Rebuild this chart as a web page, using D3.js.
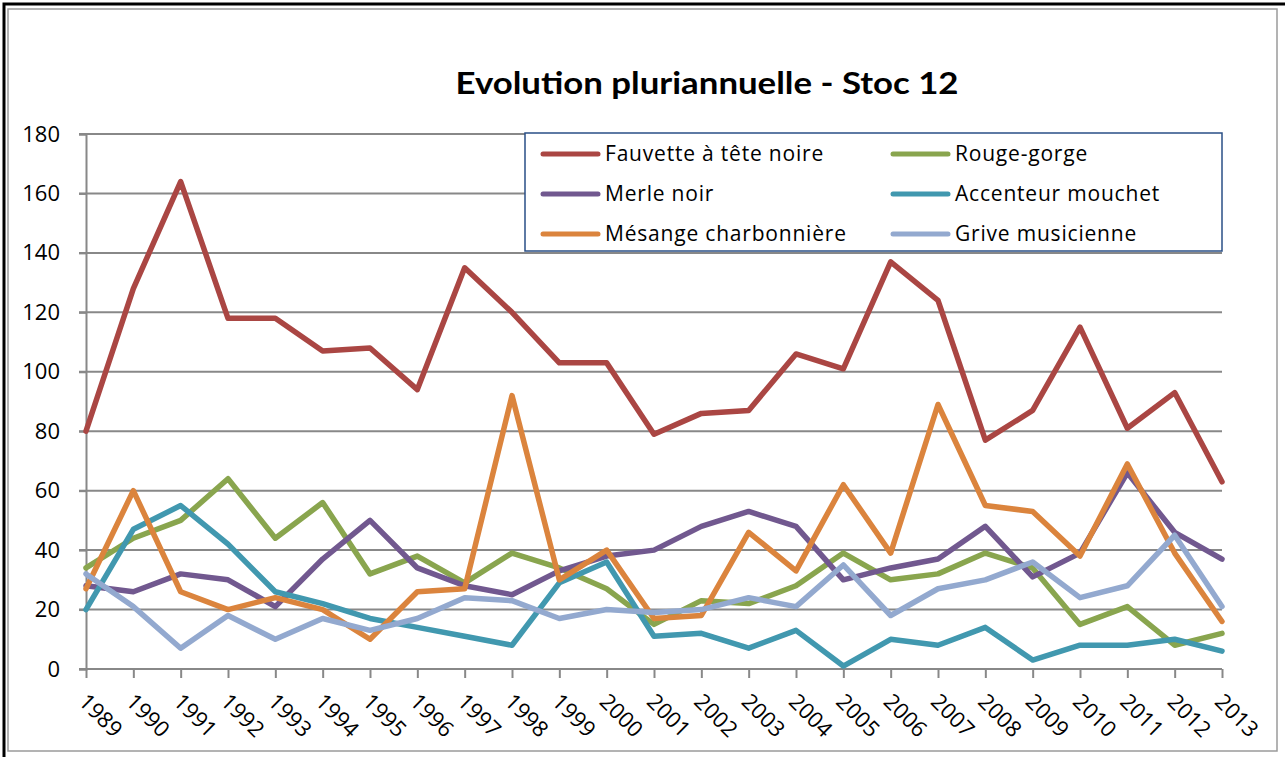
<!DOCTYPE html>
<html>
<head>
<meta charset="utf-8">
<script src="https://cdn.jsdelivr.net/npm/d3@7"></script>
<style>
  body { margin: 0; background: #fff; }
  svg text { font-family: "Open Sans", Lato, sans-serif; fill: #000; }
</style>
</head>
<body>
<div id="chart"></div>
<script>
const years = d3.range(1989, 2014);
const yTicks = [0, 20, 40, 60, 80, 100, 120, 140, 160, 180];

const seriesNames = ["Fauvette à tête noire", "Rouge-gorge", "Merle noir", "Accenteur mouchet", "Mésange charbonnière", "Grive musicienne"];
const seriesColors = ["#AA4643", "#89A54E", "#71588F", "#4198AF", "#DB843D", "#93A9CF"];

const fauvette = [80, 128, 164, 118, 118, 107, 108, 94, 135, 120, 103, 103, 79, 86, 87, 106, 101, 137, 124, 77, 87, 115, 81, 93, 63];
const rougeGorge = [34, 44, 50, 64, 44, 56, 32, 38, 29, 39, 34, 27, 15, 23, 22, 28, 39, 30, 32, 39, 34, 15, 21, 8, 12];
const merle = [28, 26, 32, 30, 21, 37, 50, 34, 28, 25, 33, 38, 40, 48, 53, 48, 30, 34, 37, 48, 31, 39, 66, 46, 37];
const accenteur = [20, 47, 55, 42, 26, 22, 17, 14, 11, 8, 29, 36, 11, 12, 7, 13, 1, 10, 8, 14, 3, 8, 8, 10, 6];
const mesange = [27, 60, 26, 20, 24, 20, 10, 26, 27, 92, 30, 40, 17, 18, 46, 33, 62, 39, 89, 55, 53, 38, 69, 39, 16];
const grive = [32, 21, 7, 18, 10, 17, 13, 17, 24, 23, 17, 20, 19, 20, 24, 21, 35, 18, 27, 30, 36, 24, 28, 45, 21];

const allSeries = [fauvette, rougeGorge, merle, accenteur, mesange, grive];

const width = 1285, height = 757;
const svg = d3.select("#chart").append("svg")
  .attr("width", width)
  .attr("height", height);

// frame
svg.append("rect").attr("x", 8).attr("y", 9).attr("width", 1269).attr("height", 742)
  .attr("fill", "none").attr("stroke", "#9a9a9a").attr("stroke-width", 1.5);
svg.append("path").attr("d", "M4,757 V4 H1285")
  .attr("fill", "none").attr("stroke", "#000").attr("stroke-width", 3);

// scales
const x = d3.scalePoint().domain(years).range([86, 1222]);
const y = d3.scaleLinear().domain([0, 180]).range([669, 134]);

// title
svg.append("text")
  .attr("x", 707).attr("y", 94)
  .attr("text-anchor", "middle")
  .style("font-family", "Lato, sans-serif")
  .style("font-size", "31px").style("font-weight", "bold")
  .attr("textLength", 503).attr("lengthAdjust", "spacingAndGlyphs")
  .text("Evolution pluriannuelle - Stoc 12");

// gridlines
svg.append("g")
  .selectAll("line")
  .data(yTicks.filter(d => d > 0))
  .join("line")
  .attr("x1", 79).attr("x2", 1222)
  .attr("y1", d => y(d)).attr("y2", d => y(d))
  .attr("stroke", "#888").attr("stroke-width", 2);

// y axis
const yAxis = svg.append("g")
  .attr("transform", "translate(86,0)")
  .call(d3.axisLeft(y).tickValues(yTicks).tickSize(7).tickPadding(19));
yAxis.select(".domain").attr("stroke", "#888").attr("stroke-width", 2);
yAxis.selectAll(".tick line").attr("stroke", "#888").attr("stroke-width", 2);
yAxis.selectAll(".tick text").style("font-size", "22px").style("font-family", "'Open Sans', sans-serif").attr("fill", "#000");

// x axis
const xAxis = svg.append("g")
  .attr("transform", "translate(0,669)")
  .call(d3.axisBottom(x).tickSize(9).tickFormat(d => d));
xAxis.select(".domain").attr("stroke", "#888").attr("stroke-width", 2).attr("d", "M79,0H1222");
xAxis.selectAll(".tick line").attr("stroke", "#888").attr("stroke-width", 2);
xAxis.selectAll(".tick text")
  .style("font-size", "22px").style("font-family", "'Open Sans', sans-serif").attr("fill", "#000")
  .attr("text-anchor", "start")
  .attr("x", 0).attr("y", 0).attr("dy", null)
  .attr("transform", "translate(-9,34) rotate(45)");

// lines
const line = d3.line()
  .x((d, i) => x(years[i]))
  .y(d => y(d));

svg.append("g")
  .selectAll("path")
  .data(allSeries)
  .join("path")
  .attr("d", line)
  .attr("fill", "none")
  .attr("stroke", (d, i) => seriesColors[i])
  .attr("stroke-width", 5.5)
  .attr("stroke-linejoin", "round")
  .attr("stroke-linecap", "round");

// legend
const legend = svg.append("g");
legend.append("rect")
  .attr("x", 525).attr("y", 133).attr("width", 697).attr("height", 118)
  .attr("fill", "#fff").attr("stroke", "#2A4F86").attr("stroke-width", 1.5);

const item = legend.selectAll(".item")
  .data(seriesNames)
  .join("g")
  .attr("class", "item")
  .attr("transform", (d, i) => `translate(${i % 2 === 0 ? 543 : 893},${154 + Math.floor(i / 2) * 40})`);
item.append("line")
  .attr("x1", 0).attr("x2", 55)
  .attr("stroke", (d, i) => seriesColors[i])
  .attr("stroke-width", 5).attr("stroke-linecap", "round");
item.append("text")
  .attr("x", 62).attr("dy", "0.35em")
  .style("font-size", "21px").style("letter-spacing", "0.8px")
  .text(d => d);
</script>
</body>
</html>
